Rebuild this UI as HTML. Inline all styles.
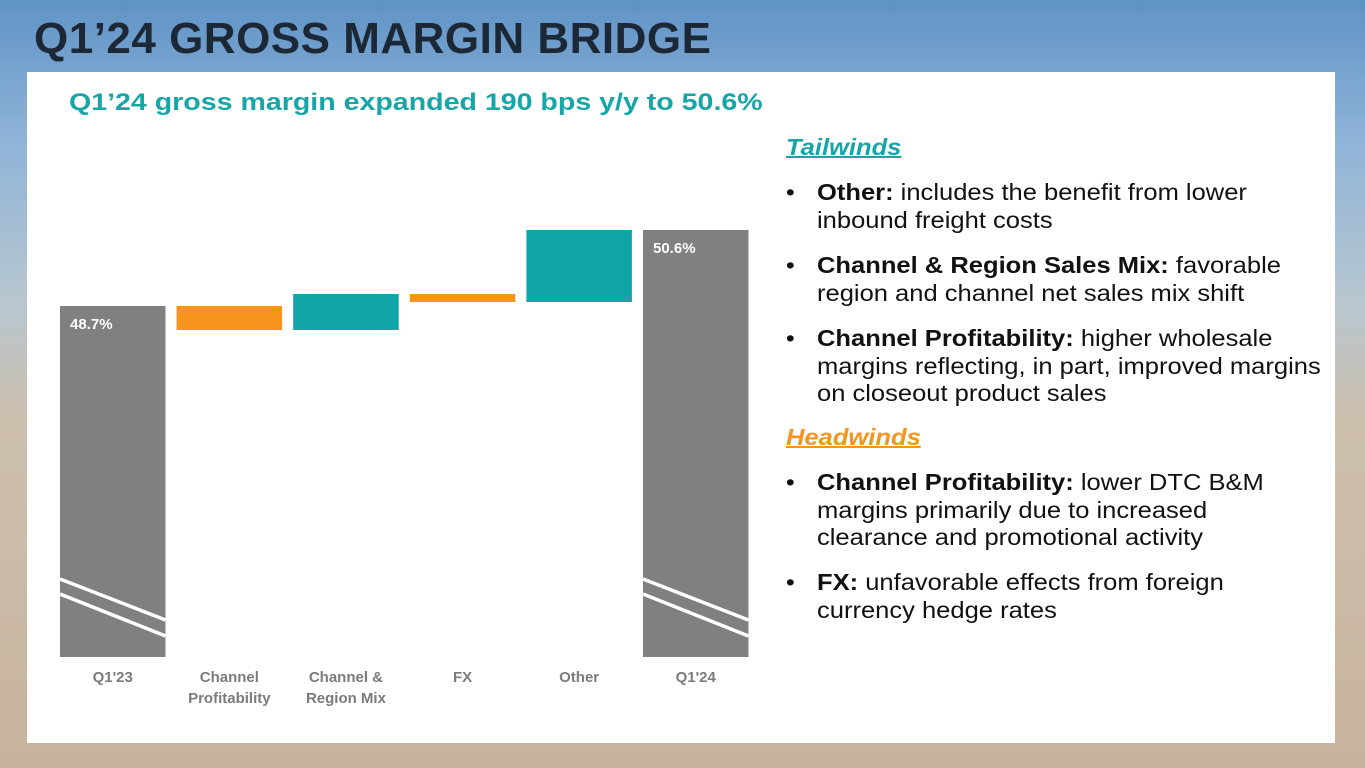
<!DOCTYPE html>
<html><head><meta charset="utf-8">
<style>
body{margin:0;width:1365px;height:768px;overflow:hidden;position:relative;font-family:"Liberation Sans",sans-serif;
background:linear-gradient(180deg,#5f93c6 0px,#8fb4d8 140px,#b7c6d0 300px,#cdbfae 420px,#c7b49c 768px);}
#title{position:absolute;left:34px;top:14px;font-size:44px;font-weight:bold;color:#1c2836;letter-spacing:0.5px;margin:0}
#panel{position:absolute;left:27px;top:72px;width:1308px;height:671px;background:#fff}
#sub{position:absolute;left:69px;top:89px;font-size:24px;font-weight:bold;color:#17a5a8;margin:0;transform:scaleX(1.19);transform-origin:0 0;white-space:nowrap}
.t{position:absolute;left:786px;font-size:23px;color:#111;line-height:27.5px;white-space:nowrap;transform:scaleX(1.11);transform-origin:0 0}
.t.b{left:817px}
.dot{position:absolute;left:-28px}
.h{font-weight:bold;font-style:italic;text-decoration:underline;text-decoration-thickness:2px}
</style></head><body>
<h1 id="title">Q1’24 GROSS MARGIN BRIDGE</h1>
<div id="panel"></div>
<p id="sub">Q1’24 gross margin expanded 190 bps y/y to 50.6%</p>
<svg id="chart" width="1365" height="768" style="position:absolute;left:0;top:0"></svg>

<div class="t h" style="top:134px;color:#17a5a8">Tailwinds</div>
<div class="t b" style="top:179px"><span class="dot">•</span><b>Other:</b> includes the benefit from lower<br>inbound freight costs</div>
<div class="t b" style="top:252px"><span class="dot">•</span><b>Channel &amp; Region Sales Mix:</b> favorable<br>region and channel net sales mix shift</div>
<div class="t b" style="top:325px"><span class="dot">•</span><b>Channel Profitability:</b> higher wholesale<br>margins reflecting, in part, improved margins<br>on closeout product sales</div>
<div class="t h" style="top:424px;color:#f7941d">Headwinds</div>
<div class="t b" style="top:469px"><span class="dot">•</span><b>Channel Profitability:</b> lower DTC B&amp;M<br>margins primarily due to increased<br>clearance and promotional activity</div>
<div class="t b" style="top:569px"><span class="dot">•</span><b>FX:</b> unfavorable effects from foreign<br>currency hedge rates</div>

<script>
const categories=["Q1'23","Channel|Profitability","Channel &|Region Mix","FX","Other","Q1'24"];
const startValue=48.7;
const deltas=[-0.6,0.9,-0.2,1.8];
const endValue=50.6;
const totalLabels=["48.7%","50.6%"];

const svg=document.getElementById('chart');
const NS='http://www.w3.org/2000/svg';
const y=v=>306-(v-48.7)*40;
const BASE=657;
const x=i=>60+i*116.6;
const W=105.5;
function el(t,a){const e=document.createElementNS(NS,t);for(const k in a)e.setAttribute(k,a[k]);svg.appendChild(e);return e;}
function totalBar(i,v,label,name){
  const r=el('rect',{x:x(i),y:y(v),width:W,height:BASE-y(v),fill:'#808083'});
  
  
  [[579,620],[594,636]].forEach(([a,b])=>{
    const l=el('line',{x1:x(i),y1:a,x2:x(i)+W,y2:b,stroke:'#fff','stroke-width':3.5});
    
    
  });
  const t=el('text',{x:x(i)+10,y:y(v)+23,fill:'#fff','font-size':15,'font-weight':'bold','font-family':'Liberation Sans, sans-serif'});
  t.textContent=label;
  
  
}
totalBar(0,startValue,totalLabels[0],'bar-q1-23');
let cur=startValue;
deltas.forEach((d,k)=>{
  const i=k+1,nxt=cur+d;
  const top=y(Math.max(cur,nxt)),bot=y(Math.min(cur,nxt));
  const r=el('rect',{x:x(i),y:top,width:W,height:bot-top,fill:d<0?'#f7941d':'#12a5a8'});
  
  
  cur=nxt;
});
totalBar(5,endValue,totalLabels[1],'bar-q1-24');
categories.forEach((c,i)=>{
  c.split('|').forEach((ln,j)=>{
    const t=el('text',{x:x(i)+W/2,y:682+j*21,'text-anchor':'middle',fill:'#7b7b7e','font-size':15,'font-weight':'bold','font-family':'Liberation Sans, sans-serif'});
    t.textContent=ln;
    
    
  });
});
</script>
</body></html>
